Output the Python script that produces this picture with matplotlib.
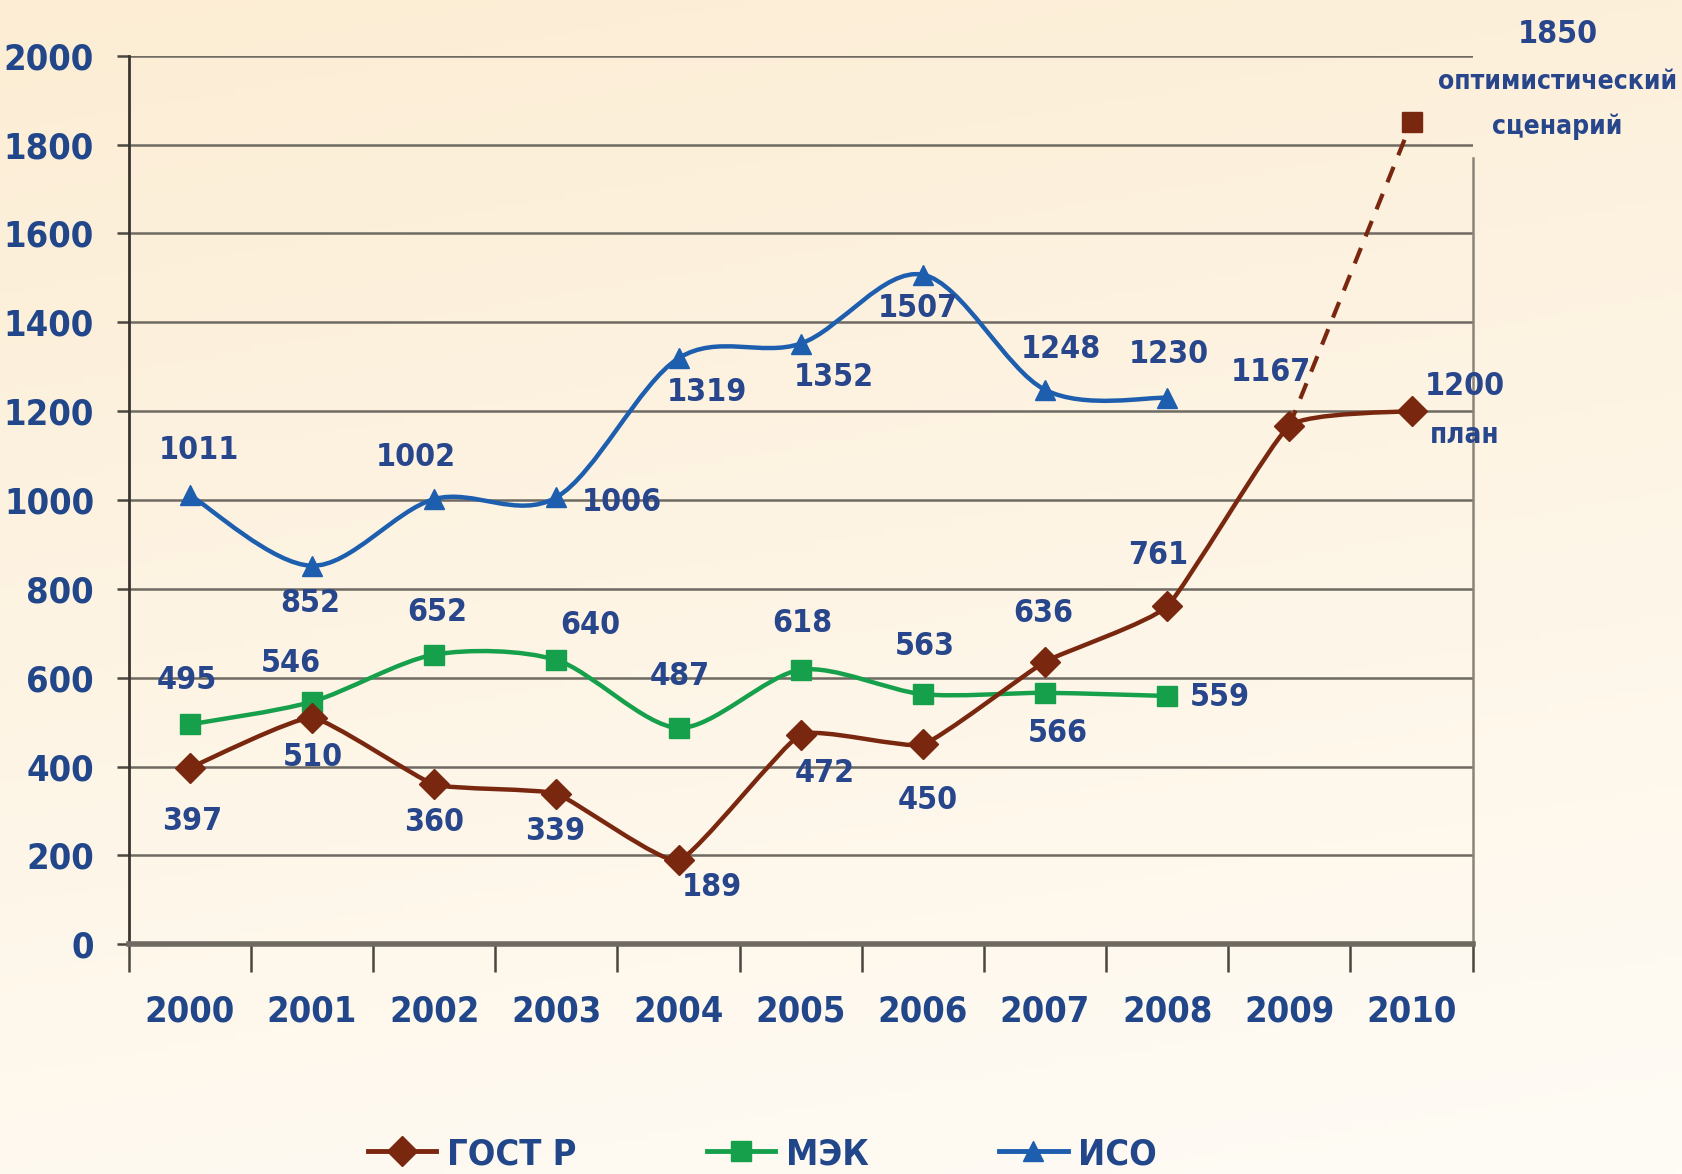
import numpy as np
import matplotlib
matplotlib.use("Agg")
import matplotlib.pyplot as plt
from matplotlib.path import Path
from matplotlib.patches import PathPatch
from matplotlib.lines import Line2D

plt.rcParams['font.family'] = ['DejaVu Sans']
plt.rcParams['font.stretch'] = 'condensed'

# data
years = ['2000', '2001', '2002', '2003', '2004', '2005', '2006', '2007', '2008', '2009', '2010']
gost = [397, 510, 360, 339, 189, 472, 450, 636, 761, 1167, 1200]
mek = [495, 546, 652, 640, 487, 618, 563, 566, 559]
iso = [1011, 852, 1002, 1006, 1319, 1352, 1507, 1248, 1230]
gost_opt = 1850

# label offsets in pixels (dx, dy) from each point
iso_off = [(9, 45), (-2, -38), (-18, 42), (65, -5), (28, -34), (33, -34), (-5, -34), (16, 40), (2, 43)]
gost_off = [(2, -54), (1, -40), (0, -38), (-1, -38), (33, -27), (24, -39), (5, -56), (-2, 48), (-9, 51), (-18, 53), (53, 25)]
mek_off = [(-3, 44), (-21, 38), (3, 42), (34, 34), (1, 51), (2, 46), (2, 48), (13, -41), (53, -2)]

c_gost = '#7a2710'
c_mek = '#17a04c'
c_iso = '#1d5eae'
c_txt = '#28468c'

fig = plt.figure(figsize=(16.83, 11.74), dpi=100)

# background gradient
bg = fig.add_axes([0, 0, 1, 1], zorder=-5)
yy, xx = np.mgrid[0:1:200j, 0:1:200j]
t = np.clip(0.8 * yy + 0.2 * xx, 0, 1)
top = np.array([252, 237, 212]) / 255
bot = np.array([255, 252, 246]) / 255
img = top[None, None, :] * (1 - t[..., None]) + bot[None, None, :] * t[..., None]
bg.imshow(img, aspect='auto', extent=[0, 1, 0, 1])
bg.axis('off')

ax = fig.add_axes([0.0765, 0.1956, 0.7985, 0.757])
ax.set_facecolor('none')
ax.set_xlim(-0.5, 10.5)
ax.set_ylim(0, 2000)


def smooth(ax, xs, ys, color, lw, k):
    # smoothed line through the points (bezier, k = tension)
    p = np.column_stack([xs, ys]).astype(float)
    n = len(p)
    verts = [p[0]]
    codes = [Path.MOVETO]
    for i in range(n - 1):
        p0 = p[i - 1] if i > 0 else p[i]
        p3 = p[i + 2] if i + 2 < n else p[i + 1]
        c1 = p[i] + (p[i + 1] - p0) * k
        c2 = p[i + 1] - (p3 - p[i]) * k
        verts += [c1, c2, p[i + 1]]
        codes += [Path.CURVE4] * 3
    ax.add_patch(PathPatch(Path(verts, codes), fill=False, edgecolor=color, lw=lw,
                           capstyle='round', joinstyle='round', zorder=3))


def labels(ax, xs, ys, offs):
    for x, y, (dx, dy) in zip(xs, ys, offs):
        ax.annotate(str(y), (x, y), xytext=(dx, dy), textcoords='offset pixels',
                    ha='center', va='center', fontsize=23, color=c_txt,
                    fontweight='bold', annotation_clip=False, zorder=6)


xg = np.arange(len(gost))
xm = np.arange(len(mek))
xi = np.arange(len(iso))

ax.plot([xg[-2], xg[-1]], [gost[-2], gost_opt], color=c_gost, lw=3, ls=(0, (4, 3)), zorder=3)
ax.plot([xg[-1]], [gost_opt], 's', color=c_gost, ms=15, zorder=4)

smooth(ax, xi, iso, c_iso, 3.2, 0.16)
smooth(ax, xm, mek, c_mek, 3.2, 0.14)
smooth(ax, xg, gost, c_gost, 3.2, 0.07)
ax.plot(xi, iso, '^', color=c_iso, ms=15, zorder=4)
ax.plot(xm, mek, 's', color=c_mek, ms=14, zorder=4)
ax.plot(xg, gost, 'D', color=c_gost, ms=15, zorder=4)

labels(ax, xi, iso, iso_off)
labels(ax, xm, mek, mek_off)
labels(ax, xg, gost, gost_off)

ax.annotate('план', (xg[-1], gost[-1]), xytext=(53, -24), textcoords='offset pixels',
            ha='center', va='center', fontsize=20, color=c_txt, fontweight='bold',
            annotation_clip=False)
ax.annotate(str(gost_opt), (xg[-1], gost_opt), xytext=(146, 88), textcoords='offset pixels',
            ha='center', va='center', fontsize=23, color=c_txt, fontweight='bold',
            annotation_clip=False)
ax.annotate('оптимистический\nсценарий', (xg[-1], gost_opt), xytext=(146, 18),
            textcoords='offset pixels', ha='center', va='center', fontsize=19,
            color=c_txt, fontweight='bold', linespacing=1.9, annotation_clip=False, zorder=7)

# grid and axes
ax.set_yticks(np.arange(0, 2001, 200))
ax.yaxis.grid(True, color='#6e6a62', lw=1.8)
ax.set_axisbelow(True)
ax.tick_params(axis='y', length=9, width=1.8, color='#4a4640', pad=16,
               labelsize=26, labelcolor='#21468a')
for lab in ax.get_yticklabels():
    lab.set_fontweight('bold')

ax.set_xticks(xg)
ax.set_xticklabels(years, fontsize=26, color='#21468a', fontweight='bold')
ax.set_xticks(np.arange(-0.5, 10.6, 1), minor=True)
ax.tick_params(axis='x', which='major', length=0, pad=36)
ax.tick_params(axis='x', which='minor', length=20, width=1.8, color='#4a4640')

ax.spines['top'].set_visible(False)
ax.spines['left'].set_color('#3a3530')
ax.spines['left'].set_linewidth(2)
ax.spines['right'].set_color('#8a8478')
ax.spines['right'].set_linewidth(1.8)
ax.spines['right'].set_bounds(0, 1770)
ax.spines['bottom'].set_color('#6e6a62')
ax.spines['bottom'].set_linewidth(4)

handles = [Line2D([], [], color=c_gost, lw=3.5, marker='D', ms=15),
           Line2D([], [], color=c_mek, lw=3.5, marker='s', ms=14),
           Line2D([], [], color=c_iso, lw=3.5, marker='^', ms=14)]
leg = fig.legend(handles, ['ГОСТ Р', 'МЭК', 'ИСО'], loc='center', ncol=3,
                 bbox_to_anchor=(0.453, 0.017), frameon=False, fontsize=26,
                 handlelength=1.9, handletextpad=0.3, columnspacing=3.6)
for txt in leg.get_texts():
    txt.set_color('#21468a')
    txt.set_fontweight('bold')

fig.savefig('out.png', dpi=100)
